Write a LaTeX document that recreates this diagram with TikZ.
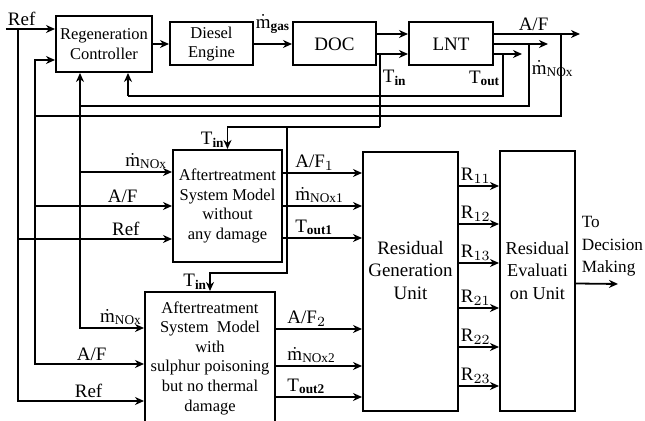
\documentclass[tikz,border=0pt]{standalone}
\usepackage{fontspec}
\setmainfont{Liberation Serif}
\usepackage{tikz}
\usetikzlibrary{arrows.meta, positioning}
\newcommand{\blockfont}{\fontsize{8.25}{9.8}\selectfont}
\newcommand{\bigfont}{\fontsize{9.5}{11.25}\selectfont}
\newcommand{\mdot}{\dot{\mathrm{m}}}
\tikzset{
  block/.style={draw, line width=1pt, align=center, font=\blockfont, inner sep=0pt},
  bigblock/.style={block, font=\bigfont},
  flow/.style={-{Stealth[length=4.5pt, width=4pt]}, line width=0.9pt},
  wire/.style={line width=0.9pt},
  lbl/.style={font=\bigfont, inner sep=1pt},
}
\begin{document}
\begin{tikzpicture}[x=0.5pt, y=-0.5pt, node distance=8pt]
  \useasboundingbox (0,0) rectangle (645,421);
  % engine and aftertreatment chain
  \node[block, minimum width=48pt, minimum height=28pt] (rc) at (104,44) {Regeneration\\ Controller};
  \node[block, right=8pt of rc, minimum width=41.5pt, minimum height=21.5pt] (diesel) {Diesel\\ Engine};
  \node[bigblock, right=19pt of diesel, minimum width=41.5pt, minimum height=21.5pt] (doc) {DOC};
  \node[bigblock, right=15.5pt of doc, minimum width=42pt, minimum height=21.5pt] (lnt) {LNT};

  % models and residual units
  \node[block, minimum width=54.5pt, minimum height=56pt] (asm1) at (227.5,206)
    {Aftertreatment\\ System Model\\ without\\ any damage};
  \node[block, minimum width=65pt, minimum height=66pt] (asm2) at (210,358)
    {Aftertreatment\\ System~~Model\\ with\\ sulphur poisoning\\ but no thermal\\ damage};
  \node[bigblock, minimum width=47.5pt, minimum height=129.5pt] (rgu) at (410.5,281.5)
    {Residual\\ Generation\\ Unit\\ \mbox{}};
  \node[bigblock, right=20pt of rgu, minimum width=37.5pt, minimum height=130pt,
    font=\fontsize{9.1}{11.25}\selectfont] (reu)
    {Residual\\ Evaluati\\ on Unit\\ \mbox{}};

  % branch points
  \coordinate (ref) at (6,29);
  \coordinate (refsplit) at (18,29);
  \coordinate (afend) at (580,34);
  \coordinate (afsplit) at (561,34);
  \coordinate (afcorner) at (35,116);
  \coordinate (noxend) at (548,44);
  \coordinate (noxsplit) at (529,44);
  \coordinate (noxcorner) at (80,106);
  \coordinate (toutend) at (522,54);
  \coordinate (toutsplit) at (503,54);
  \coordinate (toutcorner) at (128,96);
  \coordinate (tinsplit) at (380,54);
  \coordinate (tincorner) at (380,127);
  \coordinate (tinsplit2) at (287,127);
  \coordinate (tincorner2) at (287,273);
  \coordinate (decision) at (618,284);

  % top row
  \draw[flow] (ref) -- node[lbl, above, pos=0.32] {Ref} (ref -| rc.west);
  \draw[flow] (rc) -- (diesel);
  \draw[flow] (diesel) -- node[lbl, above=4pt, midway] {$\mdot_{\mathbf{gas}}$} (doc);
  \draw[flow] ([yshift=5pt]doc.east) -- ([yshift=5pt]lnt.west);
  \draw[flow] ([yshift=-5pt]doc.east) -- ([yshift=-5pt]lnt.west);
  \draw[flow] ([yshift=5pt]lnt.east) -- node[lbl, above, pos=0.46] {A/F} (afend);
  \draw[flow] (lnt.east) -- (noxend);
  \draw[flow] ([yshift=-5pt]lnt.east) -- (toutend);

  % feedback to the controller
  \draw[wire] (toutsplit) |- node[lbl, left, pos=0.29] {$\mathrm{T}_{\mathbf{out}}$} (toutcorner);
  \draw[flow] (toutcorner) -- (toutcorner |- rc.south);
  \draw[wire] (noxsplit) |- node[lbl, right, pos=0.2] {$\mdot_{\mathrm{NOx}}$} (noxcorner);
  \draw[flow] (noxcorner) -- (noxcorner |- rc.south);
  \draw[wire] (afsplit) |- (afcorner);
  \draw[flow] (afcorner) |- ([yshift=-8pt]rc.west);

  % inputs of the models
  \draw[flow] (noxcorner) |- node[lbl, above, pos=0.86] {$\mdot_{\mathrm{NOx}}$} ([yshift=17pt]asm1.west);
  \draw[flow] (afcorner) |- node[lbl, above, pos=0.82] {A/F} (asm1.west);
  \draw[flow] (refsplit) |- node[lbl, above, pos=0.85] {Ref} ([yshift=-16.5pt]asm1.west);
  \draw[flow] (noxcorner) |- node[lbl, above, pos=0.82] {$\mdot_{\mathrm{NOx}}$} ([yshift=15pt]asm2.west);
  \draw[flow] (afcorner) |- node[lbl, above, pos=0.76] {A/F} ([yshift=-3pt]asm2.west);
  \draw[flow] (refsplit) |- node[lbl, above, pos=0.78] {Ref} ([yshift=-21.5pt]asm2.west);
  \draw[wire] (tinsplit) -- node[lbl, right, pos=0.33] {$\mathrm{T}_{\mathbf{in}}$} (tincorner);
  \draw[flow] (tincorner) -| node[lbl, left, pos=0.8] {$\mathrm{T}_{\mathbf{in}}$} (asm1.north);
  \draw[flow] (tinsplit2) -- (tincorner2) -| node[lbl, left, pos=0.75] {$\mathrm{T}_{\mathbf{in}}$} (asm2.north);

  % model outputs
  \draw[flow] ([yshift=16.5pt]asm1.east) -- node[lbl, above right, pos=0.12] {A/F$_1$}
    ([yshift=16.5pt]asm1.east -| rgu.west);
  \draw[flow] (asm1.east) -- node[lbl, above right, pos=0.12] {$\mdot_{\mathrm{NOx1}}$}
    (asm1.east -| rgu.west);
  \draw[flow] ([yshift=-16pt]asm1.east) -- node[lbl, above right, pos=0.12] {$\mathrm{T}_{\mathbf{out1}}$}
    ([yshift=-16pt]asm1.east -| rgu.west);
  \draw[flow] ([yshift=14.5pt]asm2.east) -- node[lbl, above right, pos=0.1] {A/F$_2$}
    ([yshift=14.5pt]asm2.east -| rgu.west);
  \draw[flow] ([yshift=-4pt]asm2.east) -- node[lbl, above right, pos=0.1] {$\mdot_{\mathrm{NOx2}}$}
    ([yshift=-4pt]asm2.east -| rgu.west);
  \draw[flow] ([yshift=-19.5pt]asm2.east) -- node[lbl, above right, pos=0.1] {$\mathrm{T}_{\mathbf{out2}}$}
    ([yshift=-19.5pt]asm2.east -| rgu.west);

  % residuals
  \draw[flow] ([yshift=47.75pt]rgu.east) -- node[lbl, above, pos=0.42] {R$_{11}$} ([yshift=47.75pt]rgu.east -| reu.west);
  \draw[flow] ([yshift=28.75pt]rgu.east) -- node[lbl, above, pos=0.42] {R$_{12}$} ([yshift=28.75pt]rgu.east -| reu.west);
  \draw[flow] ([yshift=9.25pt]rgu.east) -- node[lbl, above, pos=0.42] {R$_{13}$} ([yshift=9.25pt]rgu.east -| reu.west);
  \draw[flow] ([yshift=-13.25pt]rgu.east) -- node[lbl, above, pos=0.42] {R$_{21}$} ([yshift=-13.25pt]rgu.east -| reu.west);
  \draw[flow] ([yshift=-32.75pt]rgu.east) -- node[lbl, above, pos=0.42] {R$_{22}$} ([yshift=-32.75pt]rgu.east -| reu.west);
  \draw[flow] ([yshift=-52.25pt]rgu.east) -- node[lbl, above, pos=0.42] {R$_{23}$} ([yshift=-52.25pt]rgu.east -| reu.west);
  \draw[flow] ([yshift=-1pt]reu.east) -- node[lbl, above right, pos=0, xshift=1.5pt, yshift=2pt, align=left,
    font=\fontsize{8.6}{11.25}\selectfont] {To\\ Decision\\ Making} (decision);
\end{tikzpicture}
\end{document}
